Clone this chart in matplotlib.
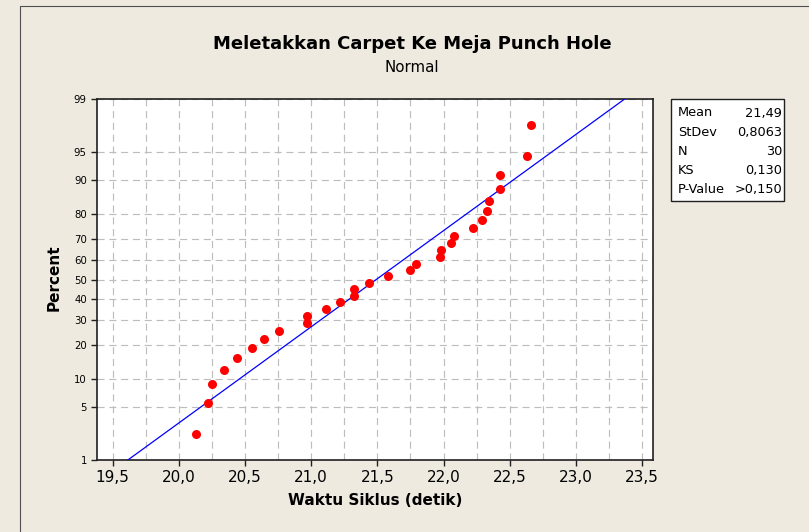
import numpy as np
import matplotlib
matplotlib.use("Agg")
import matplotlib.pyplot as plt
from matplotlib.ticker import FixedLocator, MultipleLocator, NullLocator
from matplotlib.lines import Line2D
from matplotlib.patches import Rectangle
from statistics import NormalDist

# Data waktu siklus (detik), urut naik
waktu = [20.13, 20.22, 20.25, 20.34, 20.44, 20.55, 20.64, 20.76, 20.97, 20.97,
         21.11, 21.22, 21.32, 21.32, 21.44, 21.58, 21.75, 21.79, 21.97, 21.98,
         22.06, 22.08, 22.22, 22.29, 22.33, 22.34, 22.43, 22.43, 22.63, 22.66]

# Statistik yang tertulis di kotak kanan
mean = 21.49
stdev = 0.8063
stat_nama = ["Mean", "StDev", "N", "KS", "P-Value"]
stat_nilai = ["21,49", "0,8063", "30", "0,130", ">0,150"]

# Sumbu
y_ticks = [1, 5, 10, 20, 30, 40, 50, 60, 70, 80, 90, 95, 99]
x_ticks = [19.5, 20.0, 20.5, 21.0, 21.5, 22.0, 22.5, 23.0, 23.5]
x_tick_labels = ["19,5", "20,0", "20,5", "21,0", "21,5", "22,0", "22,5", "23,0", "23,5"]

judul = "Meletakkan Carpet Ke Meja Punch Hole"
sub_judul = "Normal"

W, H = 809, 532
BG = "#EEEAE0"
nd = NormalDist()

_inv = np.vectorize(lambda v: nd.inv_cdf(v / 100.0), otypes=[float])
_cdf = np.vectorize(lambda v: nd.cdf(v) * 100.0, otypes=[float])


def ke_z(p):
    # persen -> skor z (skala probabilitas normal)
    p = np.clip(np.asarray(p, dtype=float), 1e-6, 100 - 1e-6)
    return _inv(p)


def dari_z(z):
    return _cdf(np.asarray(z, dtype=float))


def main():
    fig = plt.figure(figsize=(W / 100, H / 100), dpi=100, facecolor=BG)

    # bingkai luar ala Minitab
    fig.add_artist(Line2D([19.5 / W, 19.5 / W, 1.0], [0.0, 1 - 5.5 / H, 1 - 5.5 / H],
                          transform=fig.transFigure, color="#505050", lw=0.8))

    ax = fig.add_axes([97 / W, 1 - 460 / H, (653 - 97) / W, (460 - 99.3) / H])
    ax.set_facecolor("white")
    ax.set_yscale("function", functions=(ke_z, dari_z))
    ax.set_ylim(1, 99)
    ax.set_xlim(19.381, 23.583)

    # posisi plot (median rank Minitab)
    n = len(waktu)
    posisi = [(i + 1 - 0.3) / (n + 0.4) * 100 for i in range(n)]

    # garis fit normal dari mean dan stdev
    p_garis = np.array([0.5, 99.5])
    x_garis = mean + stdev * ke_z(p_garis)
    ax.plot(x_garis, p_garis, color="#0000FF", lw=0.9, zorder=3)

    ax.plot(waktu, posisi, "o", color="#FF0000", ms=6.5, mec="none", zorder=4)

    # tick dan grid
    ax.yaxis.set_major_locator(FixedLocator(y_ticks))
    ax.yaxis.set_minor_locator(NullLocator())
    ax.set_yticklabels([str(v) for v in y_ticks], fontsize=7.3)
    ax.set_xticks(x_ticks)
    ax.set_xticklabels(x_tick_labels, fontsize=11)
    ax.xaxis.set_minor_locator(MultipleLocator(0.25))
    ax.tick_params(axis="x", which="major", length=4, width=1, pad=3, color="#202020")
    ax.tick_params(axis="x", which="minor", length=0)
    ax.tick_params(axis="y", which="major", length=4, width=1, pad=3.3, color="#202020")

    gaya_grid = dict(color="#BDBDBD", lw=0.85, linestyle=(0, (6, 4)))
    ax.grid(True, axis="x", which="both", **gaya_grid)
    ax.grid(True, axis="y", which="major", **gaya_grid)
    ax.set_axisbelow(True)

    for s in ax.spines.values():
        s.set_color("#202020")
        s.set_linewidth(1.2)

    ax.set_xlabel("Waktu Siklus (detik)", fontsize=11, fontweight="bold")
    ax.xaxis.set_label_coords(0.5, -0.092)
    ax.set_ylabel("Percent", fontsize=11, fontweight="bold")
    ax.yaxis.set_label_coords(-0.063, 0.505)

    # judul
    fig.text(412 / W, 1 - 44 / H, judul, ha="center", va="center",
             fontsize=13, fontweight="bold")
    fig.text(412 / W, 1 - 67.5 / H, sub_judul, ha="center", va="center", fontsize=10.8)

    # kotak statistik
    fig.add_artist(Rectangle((671 / W, 1 - 201 / H), (784 - 671) / W, (201 - 99.3) / H,
                             transform=fig.transFigure, facecolor="white",
                             edgecolor="#202020", lw=1.0))
    for k, (nama, nilai) in enumerate(zip(stat_nama, stat_nilai)):
        yy = 1 - (113 + k * 19.1) / H
        fig.text(678 / W, yy, nama, ha="left", va="center", fontsize=9.3)
        fig.text(782 / W, yy, nilai, ha="right", va="center", fontsize=9.3)

    fig.savefig("out.png", dpi=100, facecolor=BG)


if __name__ == "__main__":
    main()
